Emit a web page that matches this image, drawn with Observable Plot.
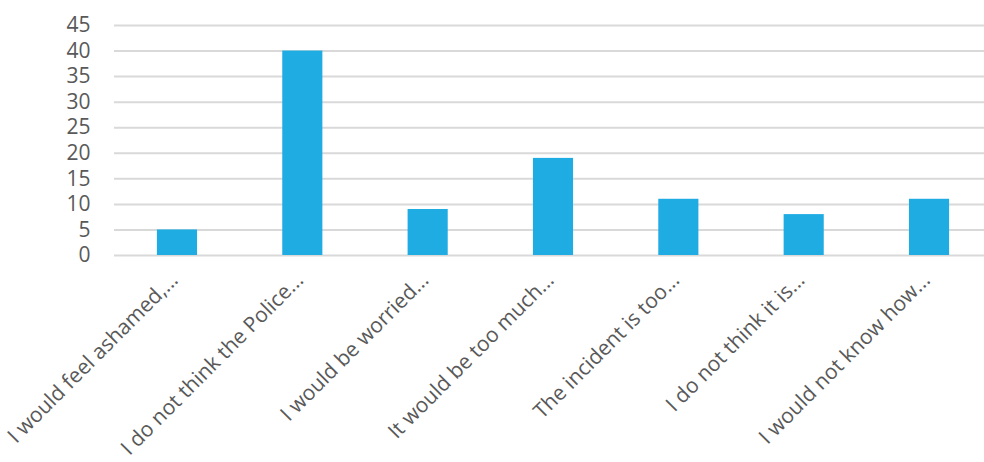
<!DOCTYPE html>
<html>
<head>
<meta charset="utf-8">
<script src="https://cdn.jsdelivr.net/npm/d3@7"></script>
<script src="https://cdn.jsdelivr.net/npm/@observablehq/plot@0.6"></script>
<style>
  html, body { margin: 0; padding: 0; background: #fff; }
  #chart svg { display: block; }
</style>
</head>
<body>
<div id="chart"></div>
<script>
const categories = [
  "I would feel ashamed,...",
  "I do not think the Police...",
  "I would be worried...",
  "It would be too much...",
  "The incident is too...",
  "I do not think it is...",
  "I would not know how..."
];
const values = [5, 40, 9, 19, 11, 8, 11];
const yTicks = [0, 5, 10, 15, 20, 25, 30, 35, 40, 45];

const data = categories.map((c, i) => ({category: c, value: values[i]}));

const chart = Plot.plot({
  width: 984,
  height: 462,
  marginTop: 25,
  marginBottom: 207,
  marginLeft: 114,
  marginRight: 0,
  style: {fontFamily: "'Open Sans', sans-serif", fontSize: "21px", color: "#595959", background: "#fff"},
  x: {domain: categories, range: [114.3, 991.7], paddingInner: 0.68, paddingOuter: 0.34, round: false, label: null},
  y: {domain: [0, 45], ticks: yTicks, label: null},
  marks: [
    Plot.ruleY(yTicks, {stroke: "#d9d9d9", strokeWidth: 2}),
    Plot.barY(data, {x: "category", y: "value", fill: "#1eace3"}),
    Plot.axisY({ticks: yTicks, tickSize: 0, tickPadding: 24, label: null, fontSize: 21, fill: "#595959"}),
    Plot.axisX({tickSize: 0, tickPadding: 0, tickRotate: -45, label: null, fontSize: 21, fill: "#595959", dx: -3, dy: 21})
  ]
});
document.getElementById("chart").appendChild(chart);
</script>
</body>
</html>
